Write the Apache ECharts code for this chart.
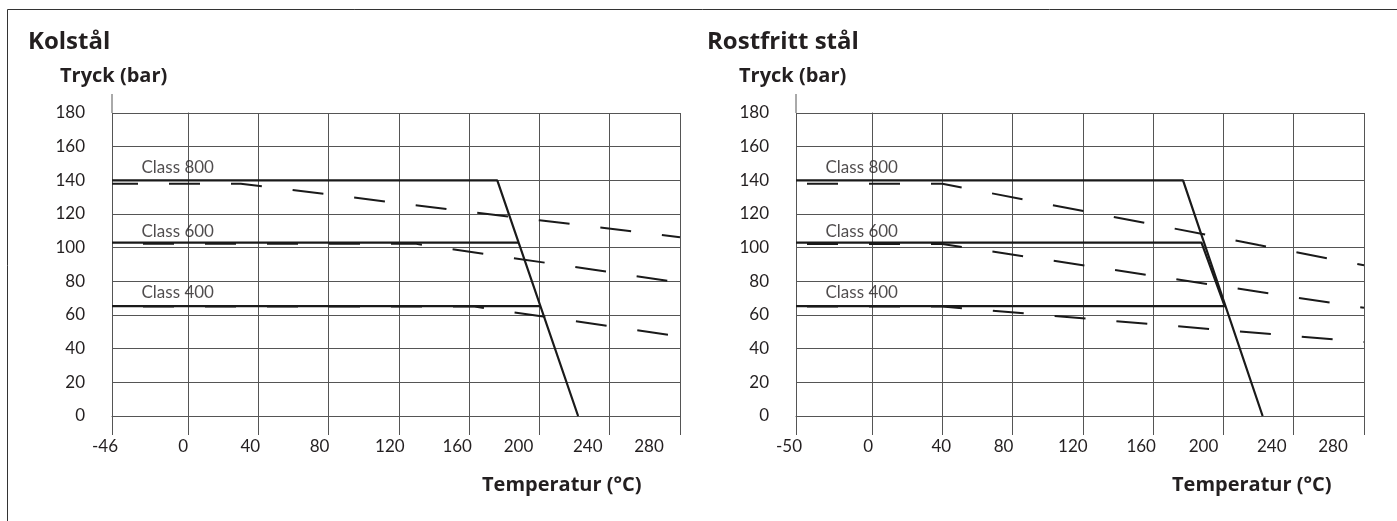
<!DOCTYPE html>
<html><head><meta charset="utf-8">
<script src="https://cdn.jsdelivr.net/npm/echarts@6/dist/echarts.min.js"></script>
<style>html,body{margin:0;padding:0;background:#fff}#c{width:1397px;height:521px}</style>
</head><body><div id="c"></div>
<script>
// Axis position of the first (lowest) temperature column; the original axis is not linear there.
const XMIN = -43.3;
const xTickValues = [XMIN, 0, 40, 80, 120, 160, 200, 240, 280];
const xLabelsCS = ['-46', '0', '40', '80', '120', '160', '200', '240', '280'];
const xLabelsSS = ['-50', '0', '40', '80', '120', '160', '200', '240', '280'];
const yMin = 0, yMax = 180, yStep = 20;

const classNames = ['Class 800', 'Class 600', 'Class 400'];

// Kolstål (carbon steel) – solid limits
const cs800Solid = [[XMIN, 140], [176, 140], [222, 0]];
const cs600Solid = [[XMIN, 103], [188, 103]];
const cs400Solid = [[XMIN, 65.3], [200.5, 65.3]];
// Kolstål – dashed curves
const cs800Dash = [[XMIN, 138], [30, 138], [80, 131.6], [140, 123.9], [200, 116.3], [250, 110], [280, 106.2]];
const cs600Dash = [[XMIN, 102.4], [129, 102.4], [180, 94.6], [230, 87], [280, 79.2]];
const cs400Dash = [[XMIN, 65], [163, 65], [200, 59.4], [240, 53.3], [280, 47.2]];

// Rostfritt stål (stainless) – solid limits
const ss800Solid = [[XMIN, 140], [177, 140], [222.3, 0]];
const ss600Solid = [[XMIN, 103], [187.5, 103], [200.8, 65]];
const ss400Solid = [[XMIN, 65.3], [201, 65.3]];
// Rostfritt stål – dashed curves
const ss800Dash = [[XMIN, 138], [40, 138], [100, 125.8], [160, 113.8], [220, 101.6], [280, 89.5]];
const ss600Dash = [[XMIN, 102.2], [40, 102.2], [100, 92.7], [160, 83.3], [220, 73.8], [280, 64.3]];
const ss400Dash = [[XMIN, 65], [40, 65], [100, 59.8], [160, 54.5], [220, 49.3], [280, 44]];

// ---------- styling / layout ----------
const INK = '#231f20';
const GRIDC = '#555';
const FONT = 'Lato';
const shiftsCS = [-7, -5, -8, -9, -9, -12, -21, -22, -31];
const shiftsSS = [-7, -4, -1, -9, -10, -12, -20, -22, -31];
const labelOffsets = [[29, -13], [29, -11], [29, -13.5]];

function xAxisCfg(gi, labels, shifts) {
  const rich = {};
  shifts.forEach((s, i) => {
    rich['t' + i] = { padding: [0, Math.max(0, -2 * s), 0, Math.max(0, 2 * s)], fontSize: 17, fontFamily: FONT, color: INK };
  });
  return {
    type: 'value', gridIndex: gi, min: XMIN, max: 280,
    axisLine: { show: true, onZero: false, lineStyle: { color: GRIDC, width: 1 } },
    axisTick: { show: true, length: 19, inside: false, customValues: xTickValues, lineStyle: { color: GRIDC, width: 1 } },
    splitLine: { show: true, lineStyle: { color: GRIDC, width: 1 } },
    axisLabel: {
      customValues: xTickValues, margin: 22, showMinLabel: true, showMaxLabel: true,
      formatter: (v) => {
        let i = xTickValues.findIndex(t => Math.abs(t - v) < 1e-6);
        if (i < 0) return '';
        return '{t' + i + '|' + labels[i] + '}';
      },
      rich
    }
  };
}
function yAxisCfg(gi) {
  return {
    type: 'value', gridIndex: gi, min: yMin, max: yMax, interval: yStep,
    axisLine: { show: true, lineStyle: { color: GRIDC, width: 1 } },
    axisTick: { show: true, length: 19, lineStyle: { color: GRIDC, width: 1 } },
    splitLine: { show: true, lineStyle: { color: GRIDC, width: 1 } },
    axisLabel: { margin: 27, fontSize: 17, fontFamily: FONT, color: INK, showMinLabel: true, showMaxLabel: true }
  };
}
function solid(gi, data) {
  return { type: 'line', xAxisIndex: gi, yAxisIndex: gi, data, showSymbol: false, silent: true, animation: false,
    lineStyle: { color: '#1a1a1a', width: 2.2 }, z: 4 };
}
function dashed(gi, data, offset) {
  return { type: 'line', xAxisIndex: gi, yAxisIndex: gi, data, showSymbol: false, silent: true, animation: false,
    lineStyle: { color: '#1a1a1a', width: 2, type: [31, 31], dashOffset: offset }, z: 3 };
}
function labels(gi, solids) {
  return { type: 'scatter', xAxisIndex: gi, yAxisIndex: gi, symbolSize: 1, silent: true, animation: false,
    itemStyle: { color: 'rgba(0,0,0,0)' }, z: 5,
    data: solids.map((s, k) => ({
      value: s[0], name: classNames[k],
      label: { show: true, position: 'right', distance: 0, offset: labelOffsets[k], formatter: '{b}',
        fontSize: 17, fontFamily: FONT, color: INK }
    }))
  };
}

const chart = echarts.init(document.getElementById('c'), null, { renderer: 'canvas' });
const option = {
  backgroundColor: '#fff',
  animation: false,
  grid: [
    { left: 112, top: 113, width: 568, height: 303 },
    { left: 796, top: 113, width: 568, height: 303 }
  ],
  xAxis: [xAxisCfg(0, xLabelsCS, shiftsCS), xAxisCfg(1, xLabelsSS, shiftsSS)],
  yAxis: [yAxisCfg(0), yAxisCfg(1)],
  series: [
    solid(0, cs800Solid), solid(0, cs600Solid), solid(0, cs400Solid),
    dashed(0, cs800Dash, 5), dashed(0, cs600Dash, 31), dashed(0, cs400Dash, 31),
    labels(0, [cs800Solid, cs600Solid, cs400Solid]),
    solid(1, ss800Solid), solid(1, ss600Solid), solid(1, ss400Solid),
    dashed(1, ss800Dash, 51), dashed(1, ss600Dash, 51), dashed(1, ss400Dash, 51),
    labels(1, [ss800Solid, ss600Solid, ss400Solid])
  ]
};
chart.setOption(option);

const BOLD = '"Open Sans"';
function txt(id, text, x, y, font) {
  return { type: 'text', id, silent: true, z: 10, style: { text, x, y, font, fill: INK, verticalAlign: 'middle' } };
}
const gr = [
  { type: 'polyline', id: 'frame', silent: true, shape: { points: [[7.5, 521], [7.5, 9.5], [1397, 9.5]] }, style: { stroke: '#333', lineWidth: 1, fill: null } },
  txt('t1', 'Kolstål', 28, 42, 'bold 24px ' + BOLD),
  txt('t2', 'Rostfritt stål', 707, 42, 'bold 24px ' + BOLD),
  txt('y1', 'Tryck (bar)', 60, 76, 'bold 20px ' + BOLD),
  txt('y2', 'Tryck (bar)', 739, 76, 'bold 20px ' + BOLD),
  txt('x1', 'Temperatur (°C)', 482, 485, 'bold 20px ' + BOLD),
  txt('x2', 'Temperatur (°C)', 1172, 485, 'bold 20px ' + BOLD)
];
[0, 1].forEach(g => {
  const p = chart.convertToPixel({ xAxisIndex: g, yAxisIndex: g }, [XMIN, yMax]);
  gr.push({ type: 'line', id: 'ext' + g, silent: true, shape: { x1: p[0], y1: p[1], x2: p[0], y2: p[1] - 19 }, style: { stroke: GRIDC, lineWidth: 1 } });
});
chart.setOption({ graphic: gr });
</script></body></html>
